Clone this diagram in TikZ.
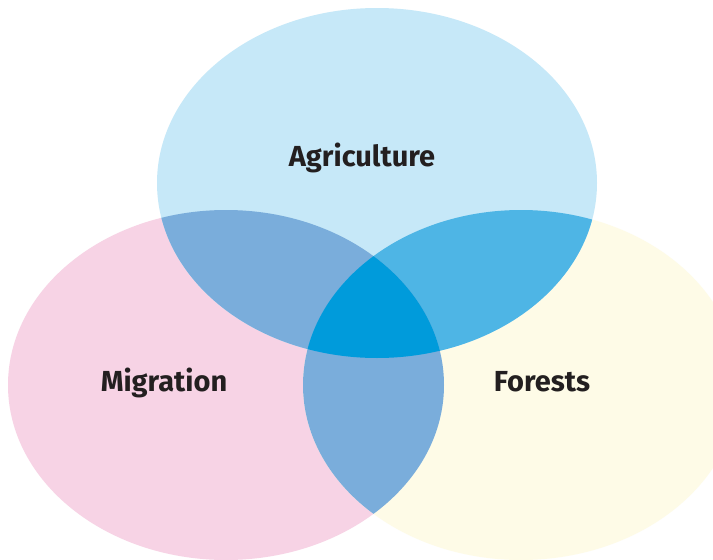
\documentclass[tikz,border=0pt]{standalone}
\usepackage{fontspec}
\setmainfont{Fira Sans}
\definecolor{agri}{HTML}{C6E8F8}
\definecolor{migr}{HTML}{F7D3E5}
\definecolor{fore}{HTML}{FEFBE7}
\definecolor{am}{HTML}{7AADDB}
\definecolor{af}{HTML}{4EB5E5}
\definecolor{mf}{HTML}{7AADDB}
\definecolor{amf}{HTML}{009BDB}
\definecolor{ink}{HTML}{231F20}
\tikzset{lbl/.style={font=\fontsize{29}{34}\selectfont\bfseries, text=ink, anchor=base, inner sep=0pt}}
\begin{document}
\begin{tikzpicture}[x=1pt,y=-1pt]
\useasboundingbox (0,0) rectangle (713,560);
\fill[white] (0,0) rectangle (713,560);
\def\agripath{(377,183) ellipse [x radius=220pt, y radius=175pt]}
\def\migrpath{(226,385) ellipse [x radius=218pt, y radius=175pt]}
\def\forepath{(521,385) ellipse [x radius=218pt, y radius=175pt]}
\fill[migr] \migrpath;
\fill[fore] \forepath;
\fill[agri] \agripath;
\begin{scope}
  \clip \agripath;
  \fill[am] \migrpath;
  \fill[af] \forepath;
\end{scope}
\begin{scope}
  \clip \migrpath;
  \fill[mf] \forepath;
\end{scope}
\begin{scope}
  \clip \agripath;
  \clip \migrpath;
  \fill[amf] \forepath;
\end{scope}
\node[lbl] (agriculture) at (362,166) {Agriculture};
\node[lbl] (migration) at (164,391) {Migration};
\node[lbl] (forests) at (542,391) {Forests};
\end{tikzpicture}
\end{document}
